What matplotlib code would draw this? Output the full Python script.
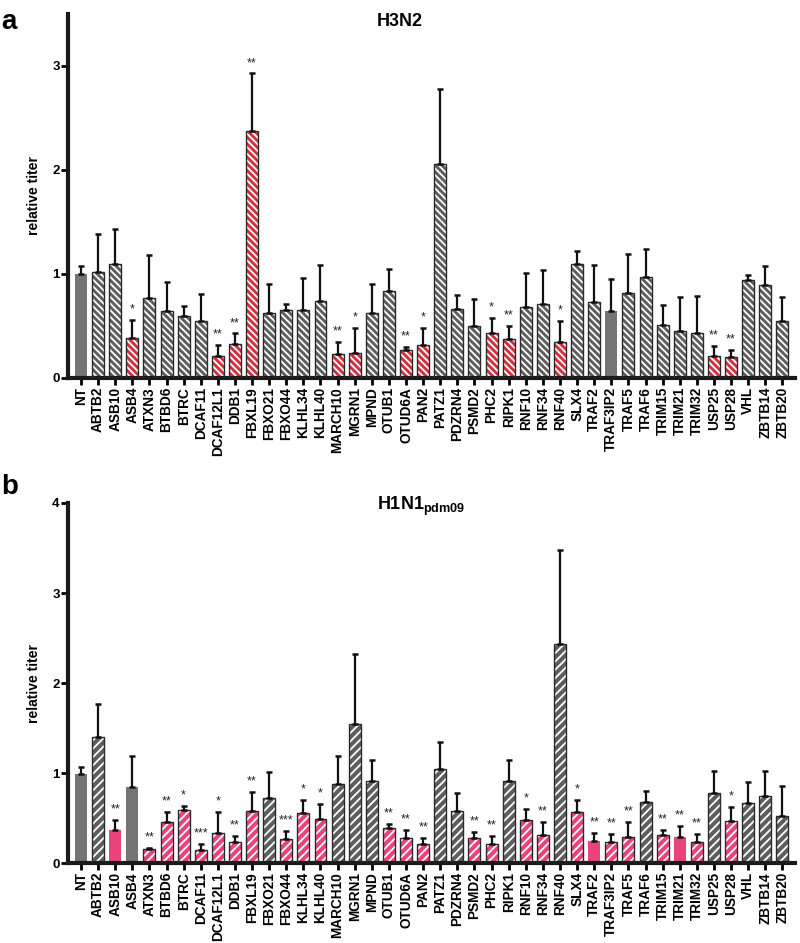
import numpy as np
import matplotlib.pyplot as plt

plt.rcParams['font.family'] = ['Liberation Sans', 'DejaVu Sans']
plt.rcParams['font.weight'] = 'bold'
plt.rcParams['mathtext.fontset'] = 'custom'
plt.rcParams['mathtext.rm'] = 'Liberation Sans:bold'
plt.rcParams['mathtext.bf'] = 'Liberation Sans:bold'
plt.rcParams['hatch.linewidth'] = 1.3

genes = ['NT', 'ABTB2', 'ASB10', 'ASB4', 'ATXN3', 'BTBD6', 'BTRC', 'DCAF11', 'DCAF12L1',
         'DDB1', 'FBXL19', 'FBXO21', 'FBXO44', 'KLHL34', 'KLHL40', 'MARCH10', 'MGRN1',
         'MPND', 'OTUB1', 'OTUD6A', 'PAN2', 'PATZ1', 'PDZRN4', 'PSMD2', 'PHC2', 'RIPK1',
         'RNF10', 'RNF34', 'RNF40', 'SLX4', 'TRAF2', 'TRAF3IP2', 'TRAF5', 'TRAF6',
         'TRIM15', 'TRIM21', 'TRIM32', 'USP25', 'USP28', 'VHL', 'ZBTB14', 'ZBTB20']

# H3N2
h3_mean = [1.00, 1.02, 1.10, 0.38, 0.77, 0.64, 0.60, 0.55, 0.21, 0.33, 2.37, 0.62, 0.65,
           0.65, 0.74, 0.23, 0.24, 0.62, 0.84, 0.27, 0.32, 2.06, 0.66, 0.50, 0.43, 0.37,
           0.68, 0.71, 0.35, 1.10, 0.73, 0.64, 0.82, 0.97, 0.51, 0.45, 0.43, 0.21, 0.20,
           0.94, 0.89, 0.55]
h3_top = [1.08, 1.38, 1.43, 0.56, 1.18, 0.92, 0.69, 0.81, 0.32, 0.43, 2.93, 0.90, 0.71,
          0.96, 1.09, 0.35, 0.48, 0.90, 1.05, 0.30, 0.48, 2.78, 0.80, 0.76, 0.58, 0.50,
          1.01, 1.04, 0.55, 1.22, 1.09, 0.95, 1.19, 1.24, 0.70, 0.78, 0.79, 0.31, 0.27,
          0.99, 1.08, 0.78]
h3_sig = ['', '', '', '*', '', '', '', '', '**', '**', '**', '', '', '', '', '**', '*',
          '', '', '**', '*', '', '', '', '*', '**', '', '', '*', '', '', '', '', '', '',
          '', '', '**', '**', '', '', '']
h3_solid = ['NT', 'TRAF3IP2']

# H1N1pdm09
h1_mean = [0.99, 1.40, 0.37, 0.85, 0.16, 0.46, 0.59, 0.14, 0.33, 0.23, 0.58, 0.72, 0.27,
           0.56, 0.49, 0.88, 1.54, 0.91, 0.39, 0.28, 0.21, 1.04, 0.58, 0.28, 0.21, 0.91,
           0.48, 0.31, 2.43, 0.57, 0.25, 0.23, 0.29, 0.68, 0.31, 0.29, 0.23, 0.78, 0.47,
           0.67, 0.75, 0.52]
h1_top = [1.07, 1.77, 0.48, 1.19, 0.17, 0.57, 0.63, 0.21, 0.57, 0.30, 0.79, 1.01, 0.36,
          0.70, 0.66, 1.19, 2.32, 1.14, 0.43, 0.37, 0.28, 1.35, 0.78, 0.34, 0.30, 1.14,
          0.60, 0.46, 3.48, 0.70, 0.33, 0.32, 0.46, 0.80, 0.37, 0.41, 0.32, 1.02, 0.62,
          0.90, 1.02, 0.86]
h1_sig = ['', '', '**', '', '**', '**', '*', '***', '*', '**', '**', '', '***', '*', '*',
          '', '', '', '**', '**', '**', '', '', '**', '**', '', '*', '**', '', '*', '**',
          '**', '**', '', '**', '**', '**', '', '*', '', '', '']
h1_solid = ['NT', 'ASB4', 'ASB10', 'TRAF2', 'TRIM21']


def draw_panel(ax, mean, top, sig, solid, hit_color, hatch, ymax, step_off):
    x = np.arange(len(genes))
    mean = np.array(mean)
    err = np.array(top) - mean
    for i, g in enumerate(genes):
        col = hit_color if sig[i] else '#5e5e5e'
        if g in solid:
            fc = hit_color if sig[i] else '#747474'
            ax.bar(x[i], mean[i], 0.7, color=fc, edgecolor='none', zorder=2)
        else:
            ax.bar(x[i], mean[i], 0.7, color=col, edgecolor='white', hatch=hatch,
                   linewidth=0, zorder=2)
            ax.bar(x[i], mean[i], 0.7, fill=False, edgecolor='#2a2a2a', linewidth=1.0,
                   zorder=3)
    ax.errorbar(x, mean, yerr=[np.zeros_like(err), err], fmt='none', ecolor='#111111',
                elinewidth=1.6, capsize=2.5, capthick=1.8, zorder=4)
    for i, s in enumerate(sig):
        if s:
            ax.text(x[i], top[i] + step_off, s, ha='center', va='bottom', fontsize=9,
                    fontweight='normal', color='#222222')
    ax.set_xlim(-0.76, len(genes) - 0.25)
    ax.set_ylim(0, ymax)
    ax.set_xticks(x)
    ax.set_xticklabels(genes, rotation=90, fontsize=9.8, fontweight='bold')
    ax.set_yticks(range(int(ymax) + 1))
    ax.tick_params(axis='y', labelsize=9.5, width=2, length=5, direction='out', pad=1)
    ax.tick_params(axis='x', width=2, length=5, direction='out', pad=1.5)
    ax.set_ylabel('relative titer', fontsize=10, fontweight='bold', labelpad=8)
    for sp in ['top', 'right']:
        ax.spines[sp].set_visible(False)
    ax.spines['left'].set_linewidth(3)
    ax.spines['bottom'].set_linewidth(3)
    ax.spines['left'].set_color('#1a1a1a')
    ax.spines['bottom'].set_color('#1a1a1a')


fig = plt.figure(figsize=(8, 9.43), dpi=100)
ax1 = fig.add_axes([0.085, 0.5992, 0.909, 0.386])
ax2 = fig.add_axes([0.085, 0.0848, 0.909, 0.3818])

draw_panel(ax1, h3_mean, h3_top, h3_sig, h3_solid, '#d42f3e', '\\\\\\\\\\', 3.5, 0.04)
draw_panel(ax2, h1_mean, h1_top, h1_sig, h1_solid, '#e8437c', '////', 4.0, 0.05)

fig.text(0.5, 0.977, 'H3N2', ha='center', va='center', fontsize=13, fontweight='bold')
fig.text(0.471, 0.463, r'H1N1$_{\mathrm{pdm09}}$', ha='left', va='center', fontsize=13,
         fontweight='bold')
fig.text(0.002, 0.99, 'a', ha='left', va='top', fontsize=20, fontweight='bold')
fig.text(0.002, 0.497, 'b', ha='left', va='top', fontsize=20, fontweight='bold')

plt.savefig('out.png', dpi=100)
